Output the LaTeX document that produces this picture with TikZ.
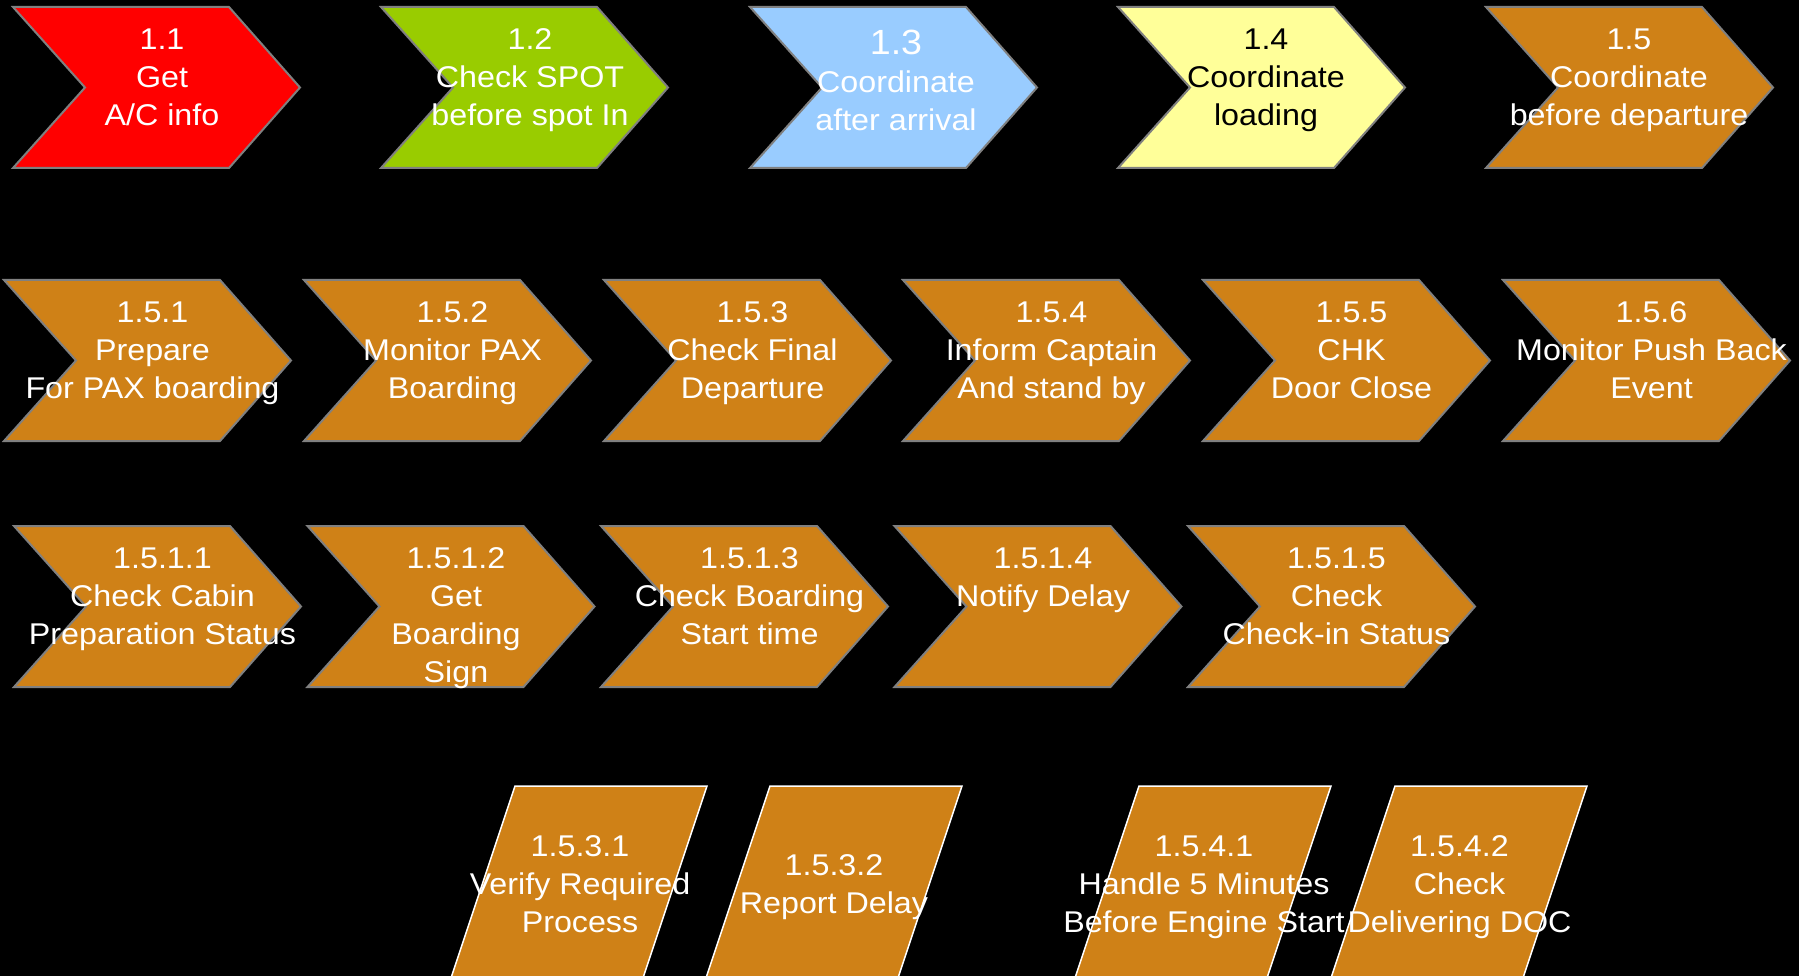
\documentclass[tikz,border=0pt]{standalone}
\usepackage{fontspec}
\setmainfont{Liberation Sans}[FakeStretch=1.075]
\definecolor{stepred}{RGB}{255,0,0}
\definecolor{stepgreen}{RGB}{153,204,0}
\definecolor{stepblue}{RGB}{153,204,255}
\definecolor{stepyellow}{RGB}{255,255,153}
\definecolor{steporange}{RGB}{207,129,23}
\definecolor{edgegray}{RGB}{128,128,128}
\tikzset{
  chevline/.style={draw=edgegray, line width=2pt, line join=miter},
  paraline/.style={draw=white, line width=1.5pt, fill=steporange},
  lbl/.style={font=\fontsize{30}{38}\selectfont, align=center, inner sep=0pt, anchor=north, text=white},
}
% chevron: #1 left x, #2 top y, #3 fill colour
\newcommand\chevshape[3]{%
  \path[chevline, fill=#3] (#1,#2) -- ++(216,0) -- ++(71,80.5) -- ++(-71,80.5)
    -- ++(-216,0) -- ++(72,-80.5) -- cycle;}
% slanted box: #1 top-left x (top edge at y = 786)
\newcommand\parashape[1]{%
  \path[paraline] (#1,786) -- ++(192,0) -- ++(-70,210) -- ++(-192,0) -- cycle;}
\begin{document}
\begin{tikzpicture}[x=1pt, y=-1pt]
\path[use as bounding box, fill=black] (0,0) rectangle (1799,976);
\clip (0,0) rectangle (1799,976);

% top level steps
\chevshape{13}{7}{stepred}
\chevshape{381}{7}{stepgreen}
\chevshape{750}{7}{stepblue}
\chevshape{1118}{7}{stepyellow}
\chevshape{1486}{7}{steporange}
\node[lbl] (s11) at (162,23) {\strut 1.1\\Get\\A/C info};
\node[lbl] (s12) at (530,23) {\strut 1.2\\Check SPOT\\before spot In};
\node[lbl] (s13) at (896,27.5) {\strut{\fontsize{35}{38}\selectfont 1.3}\\Coordinate\\after arrival};
\node[lbl, text=black] (s14) at (1266,23) {\strut 1.4\\Coordinate\\loading};
\node[lbl] (s15) at (1629,23) {\strut 1.5\\Coordinate\\before departure};

% second level
\chevshape{4}{280}{steporange}
\chevshape{304}{280}{steporange}
\chevshape{604}{280}{steporange}
\chevshape{903}{280}{steporange}
\chevshape{1203}{280}{steporange}
\chevshape{1503}{280}{steporange}
\node[lbl] (s151) at (152.5,296) {\strut 1.5.1\\Prepare\\For PAX boarding};
\node[lbl] (s152) at (452.5,296) {\strut 1.5.2\\Monitor PAX\\Boarding};
\node[lbl] (s153) at (752.5,296) {\strut 1.5.3\\Check Final\\Departure};
\node[lbl] (s154) at (1051.5,296) {\strut 1.5.4\\Inform Captain\\And stand by};
\node[lbl] (s155) at (1351.5,296) {\strut 1.5.5\\CHK\\Door Close};
\node[lbl] (s156) at (1651.5,296) {\strut 1.5.6\\Monitor Push Back\\Event};

% third level
\chevshape{14}{526}{steporange}
\chevshape{307.5}{526}{steporange}
\chevshape{601}{526}{steporange}
\chevshape{894.5}{526}{steporange}
\chevshape{1188}{526}{steporange}
\node[lbl] (s1511) at (162.5,541.4) {\strut 1.5.1.1\\Check Cabin\\Preparation Status};
\node[lbl] (s1512) at (456,541.4) {\strut 1.5.1.2\\Get\\Boarding\\Sign};
\node[lbl] (s1513) at (749.5,541.4) {\strut 1.5.1.3\\Check Boarding\\Start time};
\node[lbl] (s1514) at (1043,541.4) {\strut 1.5.1.4\\Notify Delay};
\node[lbl] (s1515) at (1336.5,541.4) {\strut 1.5.1.5\\Check\\Check-in Status};

% fourth level
\parashape{515}
\parashape{770}
\parashape{1139}
\parashape{1395}
\node[lbl] (s1531) at (580,829.4) {\strut 1.5.3.1\\Verify Required\\Process};
\node[lbl] (s1532) at (834,848.4) {\strut 1.5.3.2\\Report Delay};
\node[lbl] (s1541) at (1204,829.4) {\strut 1.5.4.1\\Handle 5 Minutes\\Before Engine Start};
\node[lbl] (s1542) at (1459.5,829.4) {\strut 1.5.4.2\\Check\\Delivering DOC};
\end{tikzpicture}
\end{document}
